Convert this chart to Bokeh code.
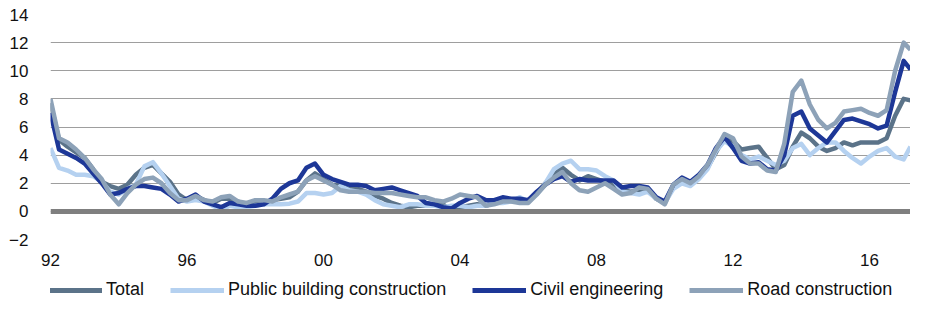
import numpy as np
from bokeh.plotting import figure
from bokeh.layouts import column
from bokeh.models import Legend, LegendItem, FixedTicker, Span, ColumnDataSource
from bokeh.embed import file_html
from bokeh.resources import INLINE

# quarterly observations 1992.0 .. 2017.0 plus last point early 2017
dates = [float(d) for d in np.arange(1992.0, 2017.01, 0.25)] + [2017.2]

total = [7.7, 5.1, 4.6, 4.2,  3.8, 3.0, 2.1, 1.8,  1.6, 1.9, 2.6, 3.1,  3.3, 2.7, 2.1, 1.2,
         0.8, 1.1, 0.8, 0.6,  0.9, 0.9, 0.7, 0.5,  0.7, 0.6, 0.8, 0.9,  1.0, 1.4, 2.2, 2.7,
         2.3, 1.9, 1.8, 1.6,  1.6, 1.4, 1.1, 0.9,  0.6, 0.4, 0.3, 0.4,  0.4, 0.5, 0.5, 0.0,
         0.3, 0.4, 0.5, 0.4,  0.6, 0.8, 0.8, 0.7,  0.8, 1.3, 2.0, 2.6,  3.1, 2.6, 2.2, 2.5,
         2.3, 2.1, 1.9, 1.5,  1.4, 1.5, 1.6, 0.9,  0.6, 1.8, 2.3, 2.0,  2.4, 3.1, 4.2, 5.3,
         5.0, 4.4, 4.5, 4.6,  3.8, 3.0, 3.3, 4.6,  5.6, 5.2, 4.6, 4.3,  4.5, 4.9, 4.7, 4.9,
         4.9, 4.9, 5.2, 6.8,  8.0, 7.9]

public_building = [4.5, 3.1, 2.9, 2.6,  2.6, 2.5, 2.1, 1.4,  1.2, 1.6, 1.9, 3.2,  3.5, 2.7, 1.8, 0.9,
                   0.7, 0.8, 0.7, 0.4,  0.1, 0.4, 0.3, 0.3,  0.4, 0.5, 0.5, 0.5,  0.55, 0.7, 1.3, 1.3,
                   1.2, 1.3, 1.8, 1.5,  1.4, 1.2, 0.8, 0.5,  0.4, 0.3, 0.5, 0.5,  0.4, 0.4, 0.3, 0.4,
                   0.4, 0.3, 0.4, 0.4,  0.6, 0.6, 0.7, 1.0,  0.7, 1.2, 2.0, 3.0,  3.4, 3.6, 3.0, 3.0,
                   2.9, 2.5, 2.2, 1.4,  1.3, 1.2, 1.4, 0.9,  0.6, 1.6, 2.0, 1.8,  2.3, 3.0, 4.3, 5.0,
                   4.6, 4.0, 3.7, 3.9,  3.6, 3.3, 3.6, 4.5,  4.8, 4.0, 4.5, 4.9,  4.9, 4.3, 3.8, 3.4,
                   3.9, 4.3, 4.5, 3.9,  3.7, 4.6]

civil_engineering = [7.0, 4.4, 4.1, 3.8,  3.4, 2.7, 2.0, 1.2,  1.3, 1.6, 1.8, 1.8,  1.7, 1.6, 1.2, 0.7,
                     0.9, 1.2, 0.7, 0.5,  0.3, 0.6, 0.5, 0.4,  0.4, 0.5, 0.9, 1.6,  2.0, 2.2, 3.1, 3.4,
                     2.6, 2.3, 2.1, 1.9,  1.9, 1.8, 1.5, 1.6,  1.7, 1.5, 1.3, 1.1,  0.6, 0.5, 0.3, 0.2,
                     0.6, 0.9, 1.1, 0.8,  0.8, 1.0, 0.9, 0.9,  0.8, 1.4, 1.9, 2.3,  2.5, 2.1, 2.3, 2.2,
                     2.2, 2.2, 2.2, 1.7,  1.8, 1.8, 1.7, 1.0,  0.7, 1.9, 2.4, 2.1,  2.6, 3.3, 4.5, 5.3,
                     4.5, 3.6, 3.4, 3.5,  3.0, 2.9, 4.0, 6.8,  7.1, 5.9, 5.4, 4.9,  5.7, 6.5, 6.6, 6.4,
                     6.2, 5.9, 6.1, 8.5,  10.7, 10.1]

road_construction = [8.0, 5.2, 4.9, 4.4,  3.8, 3.0, 2.3, 1.2,  0.5, 1.3, 1.9, 2.3,  2.4, 2.0, 1.3, 0.8,
                     0.8, 1.1, 0.8, 0.7,  1.0, 1.1, 0.7, 0.6,  0.8, 0.8, 0.7, 1.0,  1.2, 1.4, 2.2, 2.5,
                     2.2, 1.9, 1.5, 1.4,  1.4, 1.4, 1.3, 1.3,  1.3, 1.2, 1.1, 1.0,  1.0, 0.8, 0.7, 0.9,
                     1.2, 1.1, 1.0, 0.4,  0.5, 0.7, 0.7, 0.6,  0.6, 1.2, 1.9, 2.4,  2.8, 2.0, 1.5, 1.4,
                     1.7, 2.0, 1.6, 1.2,  1.3, 1.7, 1.6, 0.9,  0.5, 1.9, 2.3, 2.0,  2.5, 3.3, 4.4, 5.5,
                     5.2, 3.9, 3.4, 3.4,  2.9, 2.8, 4.8, 8.5,  9.3, 7.6, 6.5, 5.9,  6.3, 7.1, 7.2, 7.3,
                     7.0, 6.8, 7.2, 10.0,  12.0, 11.5]

series_names = ["Total", "Public building construction", "Civil engineering", "Road construction"]
series_colors = ["#5B7389", "#B5D1F0", "#1D3797", "#8DA2B8"]

tick_years = [1992, 1996, 2000, 2004, 2008, 2012, 2016]
tick_labels = ["92", "96", "00", "04", "08", "12", "16"]
y_ticks = [-2, 0, 2, 4, 6, 8, 10, 12, 14]

FONT = "Liberation Sans"
W = 910

p = figure(width=W, height=268, output_backend="svg", toolbar_location=None,
           x_range=(1992.0, 2017.2), y_range=(-2, 14),
           min_border_top=14, min_border_left=50, min_border_right=0, min_border_bottom=28)
p.outline_line_color = None
p.background_fill_color = "white"
p.border_fill_color = "white"

p.xgrid.grid_line_color = None
p.ygrid.grid_line_color = "#9E9E9E"
p.ygrid.grid_line_width = 1

p.yaxis.ticker = FixedTicker(ticks=y_ticks)
p.xaxis.ticker = FixedTicker(ticks=tick_years)
p.xaxis.major_label_overrides = {y: l for y, l in zip(tick_years, tick_labels)}
for ax in (p.xaxis, p.yaxis):
    ax.axis_line_color = None
    ax.major_tick_line_color = None
    ax.minor_tick_line_color = None
    ax.major_label_text_font = FONT
    ax.major_label_text_font_size = "17px"
    ax.major_label_text_color = "#111111"
p.yaxis.major_label_standoff = 16
p.xaxis.major_label_standoff = 8

zero = Span(location=0, dimension="width", line_color="#7F7F7F", line_width=5)
p.add_layout(zero)

src = ColumnDataSource(dict(x=dates, total=total, public=public_building,
                            civil=civil_engineering, road=road_construction))
cols = ["total", "public", "civil", "road"]
for col, color in zip(cols, series_colors):
    p.line("x", col, source=src, line_color=color, line_width=4.5, line_join="round")

# legend in its own strip below the chart (series drawn outside its visible range)
lg = figure(width=W, height=32, output_backend="svg", toolbar_location=None,
            x_range=(0, 1), y_range=(0, 1), x_axis_type=None, y_axis_type=None,
            min_border=0, min_border_left=0, min_border_right=0,
            min_border_top=0, min_border_bottom=0)
lg.grid.visible = False
lg.outline_line_color = None
lg.border_fill_color = "white"
items = []
for col, name, color in zip(cols, series_names, series_colors):
    r = lg.line("x", col, source=src, line_color=color, line_width=5)
    items.append(LegendItem(label=name, renderers=[r]))
# the strip's frame is aligned with the chart's frame, so x is measured from there
legend = Legend(items=items, orientation="horizontal", location=(-2, 0),
                label_text_font=FONT, label_text_font_size="18px", label_text_color="#111111",
                glyph_width=54, glyph_height=18, label_height=18, label_standoff=4,
                spacing=26, padding=2, margin=0, border_line_color=None,
                background_fill_alpha=0)
lg.add_layout(legend, "center")

layout = column(p, lg, spacing=0)
open("out.html", "w").write(file_html(layout, INLINE))
